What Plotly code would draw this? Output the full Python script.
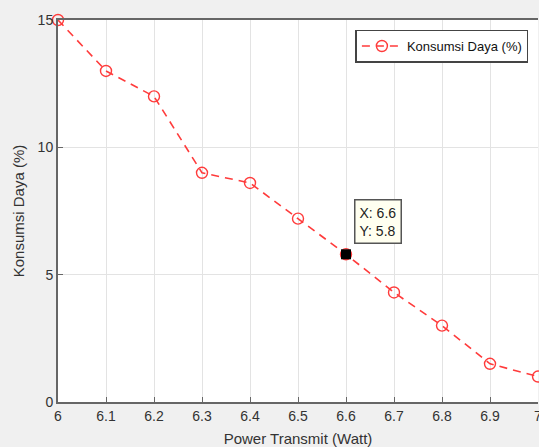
import plotly.graph_objects as go

x_vals = [6.0, 6.1, 6.2, 6.3, 6.4, 6.5, 6.6, 6.7, 6.8, 6.9, 7.0]
y_vals = [15.0, 13.0, 12.0, 9.0, 8.6, 7.2, 5.8, 4.3, 3.0, 1.5, 1.0]
x_ticks = [6.0, 6.1, 6.2, 6.3, 6.4, 6.5, 6.6, 6.7, 6.8, 6.9, 7.0]
x_tick_labels = ["6", "6.1", "6.2", "6.3", "6.4", "6.5", "6.6", "6.7", "6.8", "6.9", "7"]
y_ticks = [0, 5, 10, 15]
tip_x = 6.6
tip_y = 5.8

red = "#ff3b3b"
font = "Liberation Sans, Arial, sans-serif"

fig = go.Figure()
fig.add_trace(go.Scatter(
    x=x_vals, y=y_vals, mode="lines+markers", name="Konsumsi Daya (%)",
    line=dict(color=red, width=1.6, dash="8px,6px"),
    marker=dict(symbol="circle-open", size=11, color=red, line=dict(width=1.4, color=red)),
    cliponaxis=False,
))
fig.add_trace(go.Scatter(
    x=[tip_x], y=[tip_y], mode="markers", showlegend=False,
    marker=dict(symbol="square", size=10, color="black", line=dict(width=0)),
    cliponaxis=False,
))
fig.add_annotation(
    x=tip_x, y=tip_y, xref="x", yref="y",
    text=f"X: {tip_x}<br>Y: {tip_y}",
    showarrow=False, xanchor="left", yanchor="bottom",
    xshift=8, yshift=10, align="left",
    font=dict(family=font, size=14, color="#222222"),
    bgcolor="#fffff0", bordercolor="#555555", borderwidth=1.5, borderpad=4,
)

fig.update_layout(
    width=539, height=447,
    margin=dict(l=58, r=1, t=20, b=45),
    paper_bgcolor="#f0f0f0", plot_bgcolor="white",
    font=dict(family=font, size=14, color="#333333"),
    showlegend=True,
    legend=dict(
        x=0.98, y=0.975, xanchor="right", yanchor="top",
        bgcolor="white", bordercolor="#444444", borderwidth=1.5,
        font=dict(family=font, size=13, color="#111111"),
        itemwidth=40,
    ),
    xaxis=dict(
        range=[6, 7], tickvals=x_ticks, ticktext=x_tick_labels,
        automargin=False,
        ticklabeloverflow="allow",
        tickfont=dict(size=14, color="#333333"),
        showgrid=True, gridcolor="#e3e3e3", gridwidth=1,
        showline=True, linecolor="#666666", linewidth=2, mirror=True,
        ticks="inside", ticklen=5, tickcolor="#666666",
        zeroline=False,
        title=dict(text="Power Transmit (Watt)", font=dict(size=15, color="#333333"), standoff=12),
    ),
    yaxis=dict(
        range=[0, 15], tickvals=y_ticks,
        automargin=False,
        tickfont=dict(size=14, color="#333333"),
        showgrid=True, gridcolor="#e3e3e3", gridwidth=1,
        showline=True, linecolor="#666666", linewidth=2,
        ticks="inside", ticklen=5, tickcolor="#666666",
        zeroline=False,
        title=dict(text="Konsumsi Daya (%)", font=dict(size=15, color="#333333"), standoff=9),
    ),
)

fig.write_html("out.html")
